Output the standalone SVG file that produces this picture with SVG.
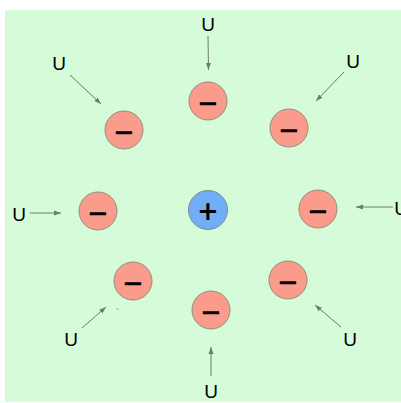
<svg xmlns="http://www.w3.org/2000/svg" width="401" height="403" viewBox="0 0 401 403">
<style>
.neg{fill:#fa9b8b;stroke:#8f8f80;stroke-width:1}
.pos{fill:#72adf7;stroke:#7a8f90;stroke-width:1}
.sign{font-family:"DejaVu Sans",sans-serif;font-size:26px;font-weight:bold;fill:#000;text-anchor:middle}
.u{font-family:"Liberation Sans",Arial,sans-serif;font-size:19px;fill:#000;text-anchor:middle}
.arr{stroke:#6f7a70;stroke-width:1;fill:none;marker-end:url(#ah)}
</style>
<defs>
<marker id="ah" viewBox="0 0 10 10" refX="10" refY="5" markerWidth="7" markerHeight="7" markerUnits="userSpaceOnUse" orient="auto">
<path d="M0,1.5 L10,5 L0,8.5 z" fill="#6f7a70"/>
</marker>
</defs>
<rect x="5" y="10" width="396" height="392" fill="#d5fbd9"/>
<g id="connectors">
<line class="arr" x1="208" y1="36" x2="208.5" y2="70"/>
<line class="arr" x1="344" y1="72" x2="316" y2="101"/>
<line class="arr" x1="70" y1="75" x2="101" y2="104"/>
<line class="arr" x1="30" y1="213" x2="61" y2="213"/>
<line class="arr" x1="393" y1="207" x2="356" y2="207"/>
<line class="arr" x1="82" y1="328" x2="106" y2="307"/>
<line class="arr" x1="341" y1="327" x2="315" y2="305"/>
<line class="arr" x1="211" y1="376" x2="211" y2="347"/>
<rect x="116.5" y="308.5" width="2" height="1" fill="#8a9a8a"/>
</g>
<g id="center"><circle class="pos" cx="208" cy="210" r="19.5"/><text class="sign" x="208" y="220">+</text></g>
<g id="n-top"><circle class="neg" cx="208" cy="101" r="19"/><text class="sign" x="208" y="112">−</text></g>
<g id="n-topright"><circle class="neg" cx="289" cy="128" r="19"/><text class="sign" x="289" y="139">−</text></g>
<g id="n-topleft"><circle class="neg" cx="124" cy="130" r="19"/><text class="sign" x="124" y="141">−</text></g>
<g id="n-left"><circle class="neg" cx="98" cy="211" r="19"/><text class="sign" x="98" y="222">−</text></g>
<g id="n-right"><circle class="neg" cx="318" cy="209" r="19"/><text class="sign" x="318" y="220">−</text></g>
<g id="n-bottomleft"><circle class="neg" cx="133" cy="281" r="19"/><text class="sign" x="133" y="292">−</text></g>
<g id="n-bottomright"><circle class="neg" cx="288" cy="280" r="19"/><text class="sign" x="288" y="291">−</text></g>
<g id="n-bottom"><circle class="neg" cx="211" cy="310" r="19"/><text class="sign" x="211" y="321">−</text></g>
<g id="labels">
<text class="u" x="208" y="31">U</text>
<text class="u" x="353" y="68">U</text>
<text class="u" x="59" y="70">U</text>
<text class="u" x="19" y="221">U</text>
<text class="u" x="401" y="215">U</text>
<text class="u" x="71" y="346">U</text>
<text class="u" x="350" y="346">U</text>
<text class="u" x="211" y="398">U</text>
</g>
</svg>
